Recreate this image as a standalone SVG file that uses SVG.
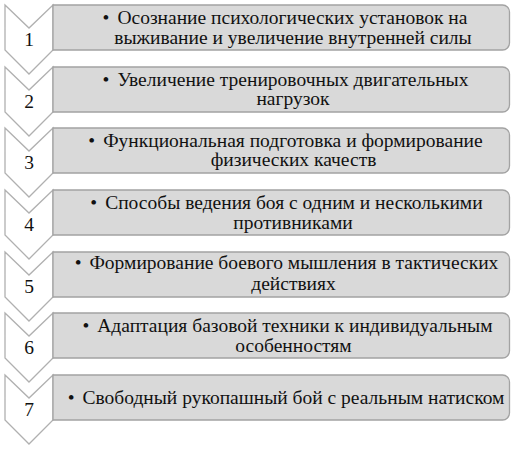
<svg xmlns="http://www.w3.org/2000/svg" width="514" height="450" viewBox="0 0 514 450">
<style>
.chev{fill:#ffffff;stroke:#b0b0b0;stroke-width:1.3;stroke-linejoin:miter}
.box{fill:#d9d9d9;stroke:#a3a3a3;stroke-width:1.3}
</style>
<defs>
<path id="chevron" d="M5,0 L29,23 L53,0 V45 L29,69 L5,45 Z"/>
<path id="rbox" d="M53,0 H502.5 A7,7 0 0 1 509.5,7 V38 A7,7 0 0 1 502.5,45 H53 Z"/>
</defs>
<rect width="514" height="450" fill="#ffffff"/>
<g font-family="Liberation Serif, Times New Roman, serif" font-size="19.5" fill="#111111" text-anchor="middle">

<g id="node1" transform="translate(0,5)">
<use href="#chevron" class="chev"/>
<use href="#rbox" class="box"/>
<text x="29" y="41">1</text>
<text x="285" y="18.5">•<tspan dx="8">Осознание психологических установок на</tspan></text>
<text x="293" y="38.5">выживание и увеличение внутренней силы</text>
</g>

<g id="node2" transform="translate(0,67)">
<use href="#chevron" class="chev"/>
<use href="#rbox" class="box"/>
<text x="29" y="41">2</text>
<text x="285.5" y="18.5">•<tspan dx="8">Увеличение тренировочных двигательных</tspan></text>
<text x="293" y="38">нагрузок</text>
</g>

<g id="node3" transform="translate(0,128)">
<use href="#chevron" class="chev"/>
<use href="#rbox" class="box"/>
<text x="29" y="41">3</text>
<text x="285.5" y="18.5">•<tspan dx="8">Функциональная подготовка и формирование</tspan></text>
<text x="293.5" y="38">физических качеств</text>
</g>

<g id="node4" transform="translate(0,190)">
<use href="#chevron" class="chev"/>
<use href="#rbox" class="box"/>
<text x="29" y="41">4</text>
<text x="286.5" y="18.5">•<tspan dx="8">Способы ведения боя с одним и несколькими</tspan></text>
<text x="293" y="38.5">противниками</text>
</g>

<g id="node5" transform="translate(0,252)">
<use href="#chevron" class="chev"/>
<use href="#rbox" class="box"/>
<text x="29" y="41">5</text>
<text x="286.5" y="17">•<tspan dx="8">Формирование боевого мышления в тактических</tspan></text>
<text x="293.5" y="38">действиях</text>
</g>

<g id="node6" transform="translate(0,313)">
<use href="#chevron" class="chev"/>
<use href="#rbox" class="box"/>
<text x="29" y="41">6</text>
<text x="287.5" y="19">•<tspan dx="8">Адаптация базовой техники к индивидуальным</tspan></text>
<text x="293.5" y="39">особенностям</text>
</g>

<g id="node7" transform="translate(0,375)">
<use href="#chevron" class="chev"/>
<use href="#rbox" class="box"/>
<text x="29" y="41">7</text>
<text x="286" y="28.5">•<tspan dx="8">Свободный рукопашный бой с реальным натиском</tspan></text>
</g>
</g>
</svg>
